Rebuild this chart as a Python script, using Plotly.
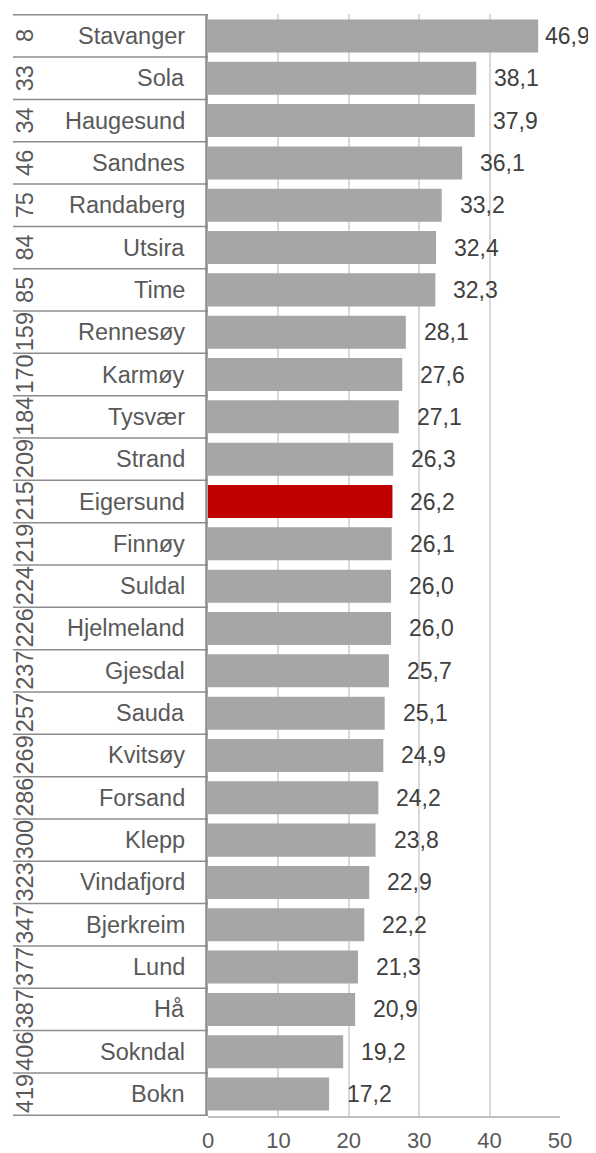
"""Rangering av kommuner i Rogaland – liggende søylediagram."""

import plotly.graph_objects as go

kommuner = [
    "Stavanger", "Sola", "Haugesund", "Sandnes", "Randaberg", "Utsira", "Time",
    "Rennesøy", "Karmøy", "Tysvær", "Strand", "Eigersund", "Finnøy", "Suldal",
    "Hjelmeland", "Gjesdal", "Sauda", "Kvitsøy", "Forsand", "Klepp",
    "Vindafjord", "Bjerkreim", "Lund", "Hå", "Sokndal", "Bokn",
]
rang = [8, 33, 34, 46, 75, 84, 85, 159, 170, 184, 209, 215, 219, 224, 226,
        237, 257, 269, 286, 300, 323, 347, 377, 387, 406, 419]
verdier = [46.9, 38.1, 37.9, 36.1, 33.2, 32.4, 32.3, 28.1, 27.6, 27.1, 26.3,
           26.2, 26.1, 26.0, 26.0, 25.7, 25.1, 24.9, 24.2, 23.8, 22.9, 22.2,
           21.3, 20.9, 19.2, 17.2]
x_ticks = [0, 10, 20, 30, 40, 50]
uthevet = "Eigersund"

FONT = "Liberation Sans, Arial, sans-serif"
# siden får 8 px body-marg, så figuren gjøres litt mindre enn vinduet
W, H = 588, 1145
ML, MR, MT, MB = 200, 36, 6, 37
plot_w = W - ML - MR

colors = ["#c00000" if k == uthevet else "#a6a6a6" for k in kommuner]

fig = go.Figure(
    go.Bar(
        x=verdier,
        y=kommuner,
        orientation="h",
        marker_color=colors,
        marker_line_width=0,
        hoverinfo="x+y",
    )
)

annotations = []
shapes = []
label_x0 = -195 / plot_w  # venstre kant av etikettfeltet
for i, (navn, r, v) in enumerate(zip(kommuner, rang, verdier)):
    # verdi-etikett etter søylen
    annotations.append(dict(
        x=v, y=navn, xref="x", yref="y", text=f"{v:.1f}".replace(".", ","),
        showarrow=False, xanchor="left", xshift=16 if v < 45 else 5,
        font=dict(family=FONT, size=23, color="#404040"),
    ))
    # kommunenavn
    annotations.append(dict(
        x=-21 / plot_w, y=navn, xref="paper", yref="y", text=navn,
        showarrow=False, xanchor="right",
        font=dict(family=FONT, size=23.5, color="#595959"),
    ))
    # rangering, rotert
    annotations.append(dict(
        x=-183 / plot_w, y=navn, xref="paper", yref="y", text=str(r),
        showarrow=False, textangle=-90, xanchor="center", yanchor="middle",
        font=dict(family=FONT, size=23.5, color="#595959"),
    ))
    shapes.append(dict(
        type="line", xref="paper", yref="y",
        x0=label_x0, x1=0, y0=i + 0.5, y1=i + 0.5,
        line=dict(color="#8c8c8c", width=1.5),
    ))

shapes.append(dict(
    type="line", xref="paper", yref="y",
    x0=label_x0, x1=0, y0=-0.5, y1=-0.5,
    line=dict(color="#8c8c8c", width=1.5),
))
shapes.append(dict(
    type="line", xref="paper", yref="paper",
    x0=-1.5 / plot_w, x1=-1.5 / plot_w, y0=0, y1=1,
    line=dict(color="#8c8c8c", width=2.5),
))

fig.update_layout(
    width=W,
    height=H,
    margin=dict(l=ML, r=MR, t=MT, b=MB),
    plot_bgcolor="white",
    paper_bgcolor="white",
    bargap=0.22,
    showlegend=False,
    annotations=annotations,
    shapes=shapes,
    xaxis=dict(
        range=[0, 50],
        tickvals=x_ticks,
        showgrid=True,
        gridcolor="#d9d9d9",
        gridwidth=1.5,
        zeroline=False,
        showline=True,
        linecolor="#bfbfbf",
        linewidth=1.5,
        tickfont=dict(family=FONT, size=22, color="#595959"),
        ticks="",
        ticklabelstandoff=4,
        automargin=False,
    ),
    yaxis=dict(
        autorange="reversed",
        showticklabels=False,
        showgrid=False,
        zeroline=False,
        ticks="",
        automargin=False,
    ),
)

fig.write_html("out.html")
